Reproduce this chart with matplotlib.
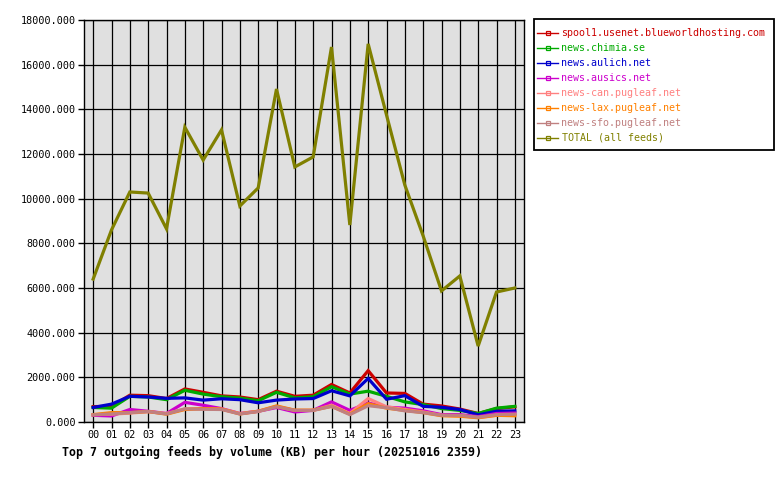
import matplotlib
matplotlib.use("Agg")
import matplotlib.pyplot as plt
from matplotlib.lines import Line2D
from matplotlib.patches import Rectangle

# hours of the day
hours = ["%02d" % h for h in range(24)]

# outgoing volume per feed (KB)
spool1 = [690, 700, 1200, 1180, 1050, 1480, 1330, 1170, 1120, 1000, 1380, 1150,
          1200, 1680, 1300, 2300, 1300, 1280, 800, 720, 580, 380, 600, 680]
chimia = [650, 620, 1150, 1120, 1000, 1420, 1250, 1130, 1070, 950, 1330, 1080,
          1130, 1580, 1250, 1380, 1150, 900, 780, 600, 520, 380, 620, 700]
aulich = [650, 800, 1150, 1120, 1060, 1080, 980, 1040, 1000, 860, 980, 1030,
          1050, 1400, 1170, 1950, 1020, 1180, 700, 660, 560, 320, 480, 500]
ausics = [300, 270, 560, 480, 380, 880, 750, 600, 380, 480, 650, 450,
          520, 900, 520, 850, 660, 620, 500, 330, 330, 240, 380, 400]
can_pugleaf = [330, 350, 400, 460, 380, 580, 600, 580, 380, 480, 700, 520,
               520, 750, 380, 1050, 680, 560, 450, 300, 280, 200, 300, 330]
lax_pugleaf = [330, 420, 420, 470, 350, 560, 600, 580, 360, 480, 720, 530,
               530, 700, 350, 820, 620, 520, 420, 280, 260, 190, 300, 280]
sfo_pugleaf = [320, 360, 420, 470, 360, 590, 570, 560, 360, 470, 680, 520,
               520, 700, 330, 730, 640, 500, 420, 300, 300, 210, 330, 350]
total = [6400, 8600, 10300, 10250, 8650, 13200, 11730, 13080, 9670, 10480, 14910, 11420,
         11870, 16790, 8820, 16930, 13750, 10610, 8330, 5870, 6540, 3400, 5820, 6000]

feeds = ["spool1.usenet.blueworldhosting.com", "news.chimia.se", "news.aulich.net",
         "news.ausics.net", "news-can.pugleaf.net", "news-lax.pugleaf.net",
         "news-sfo.pugleaf.net", "TOTAL (all feeds)"]
colors = ["#cc0000", "#00aa00", "#0000cc", "#cc00cc", "#ff8080", "#ff8000", "#c08080", "#808000"]
series = [spool1, chimia, aulich, ausics, can_pugleaf, lax_pugleaf, sfo_pugleaf, total]

plt.rcParams['font.family'] = ['DejaVu Sans Mono']

W, H = 780, 480
fig = plt.figure(figsize=(7.8, 4.8), dpi=100)
ax = fig.add_axes([84/W, 1 - 422/H, 440/W, 402/H])
ax.set_facecolor("#e0e0e0")

x = list(range(24))
for vals, c in zip(series, colors):
    ax.plot(x, vals, color=c, lw=2.3, solid_joinstyle="miter")

ax.set_xlim(-0.5, 23.5)
ax.set_ylim(0, 18000)
ax.set_xticks(x)
ax.set_xticklabels(hours, fontsize=7.3)
ax.set_yticks(range(0, 18001, 2000))
ax.set_yticklabels(["%d.000" % v for v in range(0, 18001, 2000)], fontsize=7.3)
ax.tick_params(direction="out", length=4, width=1, pad=2)
ax.grid(True, color="black", lw=0.9)
ax.set_axisbelow(True)
for s in ax.spines.values():
    s.set_linewidth(1)

fig.text(272/W, 1 - 452/H, "Top 7 outgoing feeds by volume (KB) per hour (20251016 2359)",
         ha="center", va="center", fontsize=8.4, fontweight="bold")

# legend box
fig.patches.append(Rectangle((534/W, 1 - 150/H), 240/W, 131/H, transform=fig.transFigure,
                             fill=False, edgecolor="black", lw=1.3))

handles = [Line2D([], [], color=c, lw=1, marker="s", ms=2.5, mfc="none", mew=0.9)
           for c in colors]
leg = fig.legend(handles, feeds, loc="upper left", bbox_to_anchor=(537/W, 1 - 28/H),
                 fontsize=7.2, frameon=False, handlelength=2.1, handletextpad=0.35,
                 labelspacing=0.5, borderpad=0, borderaxespad=0)
for t, c in zip(leg.get_texts(), colors):
    t.set_color(c)

fig.savefig("out.png", dpi=100)
